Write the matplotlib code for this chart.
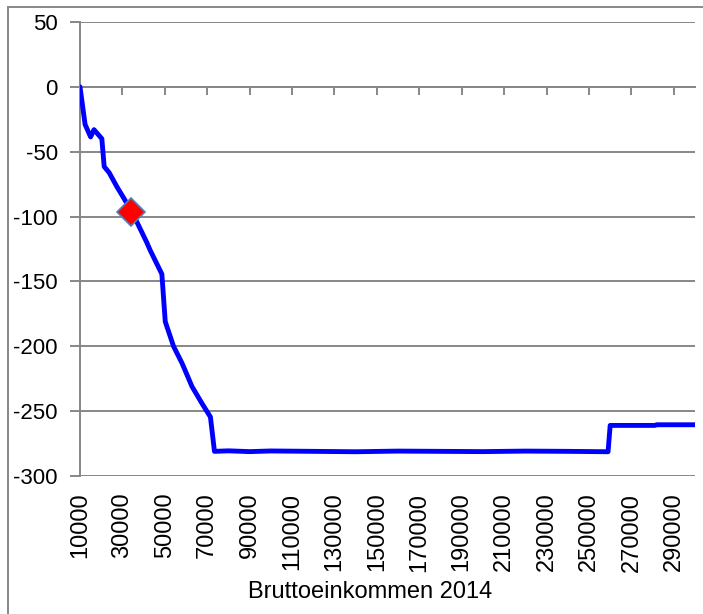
import matplotlib
matplotlib.use("Agg")
import matplotlib.pyplot as plt
from matplotlib.lines import Line2D

plt.rcParams['font.family'] = ['Liberation Sans', 'DejaVu Sans']
plt.rcParams['axes.unicode_minus'] = False

# Data
income = [10000, 12400, 15000, 16600, 20300, 21400, 23700, 27400, 34400, 41500,
          43100, 48600, 50200, 54100, 58100, 62800, 67500, 71500, 73400,
          80000, 90000, 100000, 120000, 140000, 160000, 180000, 200000, 220000,
          240000, 259000, 260000, 281000, 282000, 300000]
change = [0, -29, -38.6, -33, -40, -61.5, -66, -77, -96, -120,
          -126, -144.3, -181, -200, -213, -231, -244, -254.5, -281,
          -280.6, -281.2, -280.7, -281, -281.3, -280.8, -281, -281.2, -280.8,
          -281, -281.3, -261, -261, -260.5, -260.5]
marker_income = [34000]
marker_change = [-96.5]

x_ticks = list(range(10000, 290001, 20000))
x_ticklabels = [str(v) for v in x_ticks]
y_ticks = [50, 0, -50, -100, -150, -200, -250, -300]
x_label = "Bruttoeinkommen 2014"

W, H = 703, 614
fig = plt.figure(figsize=(W / 100, H / 100), dpi=100)
ax = fig.add_axes([80 / W, 1 - 476 / H, (695 - 80) / W, (476 - 22) / H])

grid_c = '#878787'
ax.plot(income, change, color='#0000FF', lw=3.5, solid_joinstyle='round',
        solid_capstyle='round', zorder=3)
ax.plot(marker_income, marker_change, linestyle='none', marker='D', ms=14,
        markerfacecolor='#FF0000', markeredgecolor='#4F81BD', markeredgewidth=1.2,
        zorder=4)

ax.set_xlim(10000, 300000)
ax.set_ylim(-300, 50)
ax.set_yticks(y_ticks)
ax.yaxis.grid(True, color=grid_c, lw=1.4)
ax.set_axisbelow(True)

for s in ['top', 'right']:
    ax.spines[s].set_visible(False)
ax.spines['left'].set_color(grid_c)
ax.spines['left'].set_linewidth(1.4)
ax.spines['bottom'].set_position(('data', 0))
ax.spines['bottom'].set_color(grid_c)
ax.spines['bottom'].set_linewidth(1.4)

ax.set_xticks(x_ticks)
ax.tick_params(axis='x', direction='out', length=6, width=1.4, color=grid_c,
               labelbottom=False)
ax.tick_params(axis='y', direction='out', length=7, width=1.4, color=grid_c,
               labelsize=16, pad=9)

sec = ax.secondary_xaxis('bottom')
sec.set_xticks(x_ticks)
sec.set_xticklabels(x_ticklabels, rotation=90, fontsize=17)
sec.tick_params(length=0, pad=12)
sec.spines['bottom'].set_visible(False)

lbl = ax.set_xlabel(x_label, fontsize=17)
lbl.set_verticalalignment('center')
ax.xaxis.set_label_coords((370 - 80) / 615, (476 - 592) / 454)

# chart area border
fig.add_artist(Line2D([8 / W, 8 / W], [0, 1 - 7 / H], color='#888888', lw=1.4))
fig.add_artist(Line2D([8 / W, 1], [1 - 7 / H, 1 - 7 / H], color='#888888', lw=1.4))

fig.savefig('out.png', dpi=100)
